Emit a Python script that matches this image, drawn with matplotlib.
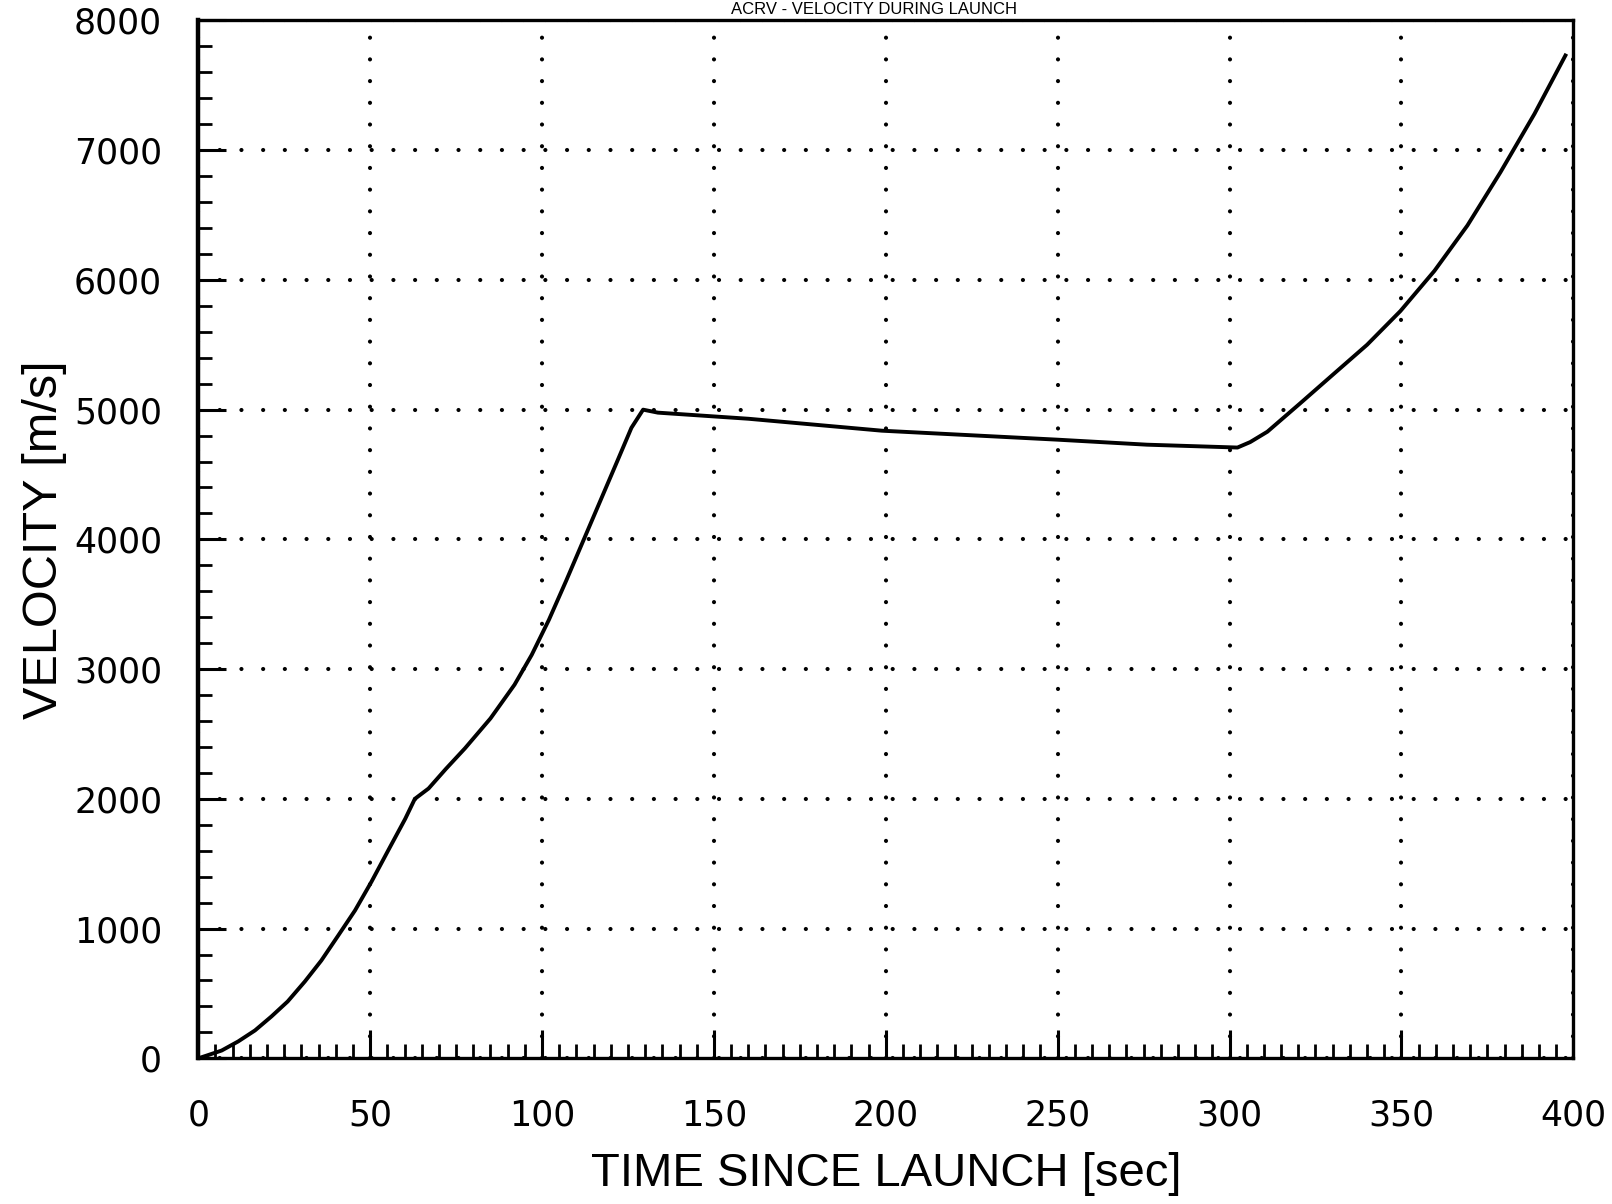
import matplotlib
matplotlib.use("Agg")
import matplotlib.pyplot as plt
from matplotlib.ticker import MultipleLocator

# Data (time in s, velocity in m/s)
time_s = [0, 2.3, 6.8, 11.6, 16.5, 21.3, 26.0, 31.0, 35.8, 40.7, 45.6, 50.4, 55.3,
          60.2, 63.0, 67.0, 72.0, 77.6, 85.0, 92.0, 97.0, 102.0, 107.0, 112.0,
          117.0, 122.0, 126.0, 129.4, 133.7, 160.0, 198.8, 249.7, 276.0, 302.3,
          306.0, 311.0, 320.6, 330.5, 340.0, 349.7, 359.6, 369.2, 378.8, 388.7, 397.7]
velocity = [0, 20, 60, 130, 215, 323, 438, 592, 754, 946, 1140, 1362, 1605,
            1846, 2000, 2080, 2230, 2390, 2620, 2880, 3110, 3380, 3680, 3990,
            4300, 4610, 4860, 5000, 4977, 4930, 4838, 4769, 4730, 4708,
            4750, 4830, 5050, 5280, 5500, 5760, 6070, 6420, 6830, 7280, 7730]

x_ticks = [0, 50, 100, 150, 200, 250, 300, 350, 400]
y_ticks = [0, 1000, 2000, 3000, 4000, 5000, 6000, 7000, 8000]

title = "ACRV - VELOCITY DURING LAUNCH"
xlabel = "TIME SINCE LAUNCH [sec]"
ylabel = "VELOCITY [m/s]"

plt.rcParams['font.family'] = ['Liberation Sans', 'DejaVu Sans']

fig = plt.figure(figsize=(16.12, 12.04), dpi=100)
ax = fig.add_axes([0.123, 0.121, 0.853, 0.862])

ax.plot(time_s, velocity, color='black', lw=2.8, solid_joinstyle='round')

ax.set_xlim(0, 400)
ax.set_ylim(0, 8000)
ax.set_xticks(x_ticks)
ax.set_yticks(y_ticks)
ax.xaxis.set_minor_locator(MultipleLocator(5))
ax.yaxis.set_minor_locator(MultipleLocator(200))

ax.tick_params(axis='both', which='major', direction='in', length=20, width=2.2,
               labelsize=25, color='black')
ax.tick_params(axis='both', which='minor', direction='in', length=10, width=2.0)
ax.tick_params(axis='x', which='major', pad=29)
ax.tick_params(axis='y', which='major', pad=26)
ax.tick_params(top=False, right=False, which='both')
for lab in ax.get_xticklabels() + ax.get_yticklabels():
    lab.set_family('DejaVu Sans')

for s in ax.spines.values():
    s.set_linewidth(2.4)
ax.spines['left'].set_linewidth(3.2)

ax.grid(True, which='major', color='black', linestyle=(0, (0.01, 5.2)),
        linewidth=3.0, dash_capstyle='round')
ax.set_axisbelow(True)

ax.set_xlabel(xlabel, fontsize=34, labelpad=14)
ax.set_ylabel(ylabel, fontsize=35, labelpad=5)

fig.text(0.542, 1 - 2 / 1204, title, ha='center', va='top', fontsize=12)

fig.savefig("out.png", dpi=100)
